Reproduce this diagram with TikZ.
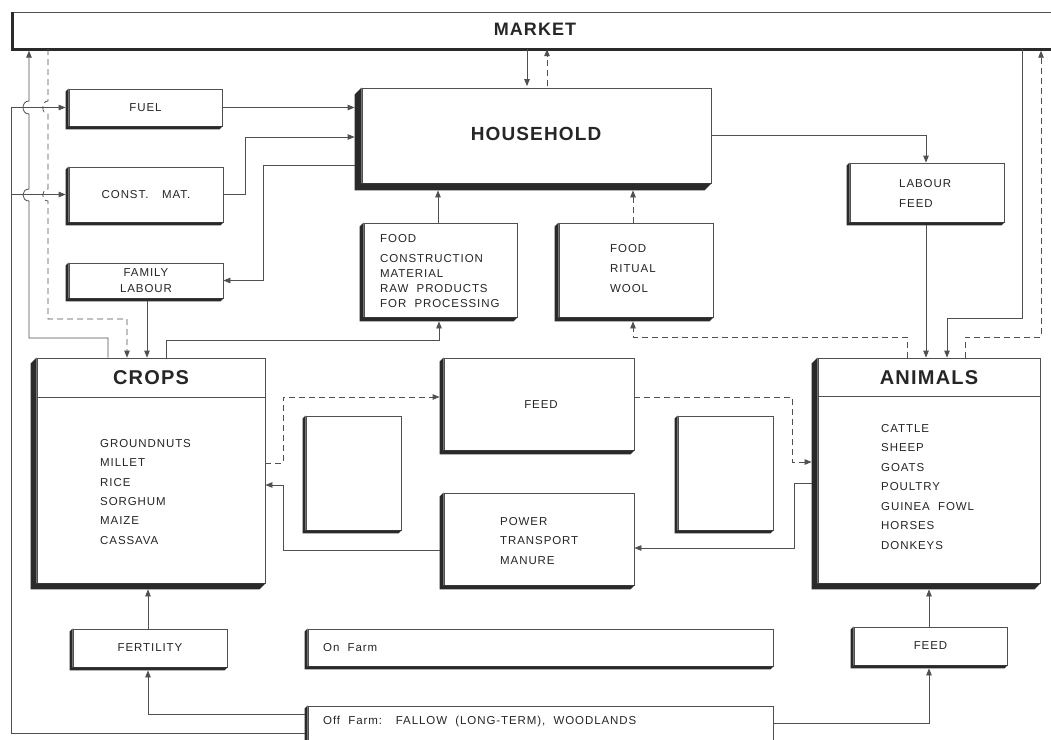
\documentclass[tikz,border=0pt]{standalone}
\usepackage{fontspec}
\setmainfont{Liberation Sans}
\newfontfamily\labfont[LetterSpace=8]{Liberation Sans}
\newfontfamily\headfont[LetterSpace=6]{Liberation Sans}
\usetikzlibrary{arrows.meta,fit}
\definecolor{ink}{HTML}{262626}
\definecolor{ln}{HTML}{505050}
\definecolor{dk}{HTML}{2A2A2A}
\newcommand{\smf}{\labfont\fontsize{11.5}{15}\selectfont}
\newcommand{\hdf}[1]{\headfont\bfseries\fontsize{#1}{#1}\selectfont}
\tikzset{
  box/.style={draw=ln, line width=0.8pt, inner sep=0pt},
  lab/.style={text=ink, inner sep=0pt, font=\smf, align=left},
  conn/.style={draw=ln, line width=0.8pt, -{Triangle[length=7pt,width=5.5pt]}},
  plain/.style={draw=ln, line width=0.8pt},
  dsh/.style={dash pattern=on 6pt off 4pt},
}
% extrusion on left and bottom of a box
\newcommand{\ext}[2]{\fill[dk] (#1.north west) -- ++(-#2pt,-#2pt) -- ([xshift=-#2pt,yshift=-#2pt]#1.south west) -- ([xshift=-#2pt,yshift=-#2pt]#1.south east) -- (#1.south east) -- (#1.south west) -- cycle;}
\newcommand{\mkbox}[6]{\node[box, fit={(#2,#3) (#4,#5)}] (#1) {}; \ext{#1}{#6}}
\begin{document}
\begin{tikzpicture}[x=1pt,y=-1pt]
\useasboundingbox (0,0) rectangle (1051,739);
\fill[white] (0,0) rectangle (1051,739);

% MARKET
\node[inner sep=0pt, fit={(12,12) (1051,49)}] (market) {};
\draw[ln, line width=0.6pt] (12,12) -- (1051,12);
\draw[dk, line width=3pt] (12,12) -- (12,49) -- (1051,49);
\node[text=ink, font=\hdf{18}] (marketT) at (535,29) {MARKET};

% boxes
\mkbox{fuel}{69}{89}{222}{126}{3}
\node[lab] (fuelT) at (fuel.center) {FUEL};
\mkbox{const}{69}{167}{223}{222}{3}
\node[lab] (constT) at (146,195) {CONST.\hspace{1.2em}MAT.};
\mkbox{famlab}{69}{263}{223}{298}{3}
\node[lab, align=center, font=\smf\fontsize{11.5}{16}\selectfont] (famlabT) at (146,281) {FAMILY\\LABOUR};
\mkbox{house}{362}{88}{711}{183}{7}
\node[text=ink, font=\hdf{19}] (houseT) at (536,134) {HOUSEHOLD};
\mkbox{foodc}{364}{223}{517}{317}{4}
\node[lab, anchor=north west] (foodcT) at (380,234) {FOOD\\[5pt]CONSTRUCTION\\MATERIAL\\RAW\ \ PRODUCTS\\FOR\ \ PROCESSING};
\mkbox{foodr}{559}{223}{713}{317}{4}
\node[lab, anchor=north west, font=\smf\fontsize{11.5}{20}\selectfont] (foodrT) at (610,244) {FOOD\\RITUAL\\WOOL};
\mkbox{labfeed}{850}{163}{1004}{222}{3}
\node[lab, anchor=north west, font=\smf\fontsize{11.5}{20}\selectfont] (labfeedT) at (899,179) {LABOUR\\FEED};
\mkbox{crops}{37}{358}{265}{583}{6}
\draw[plain] (crops.west |- 0,397) -- (crops.east |- 0,397);
\node[text=ink, font=\hdf{20}] (cropsT) at (151,378) {CROPS};
\node[lab, anchor=north west, font=\smf\fontsize{11.5}{19.4}\selectfont] (cropsL) at (100,439) {GROUNDNUTS\\MILLET\\RICE\\SORGHUM\\MAIZE\\CASSAVA};
\mkbox{animals}{818}{358}{1040}{583}{6}
\draw[plain] (animals.west |- 0,396) -- (animals.east |- 0,396);
\node[text=ink, font=\hdf{20}] (animalsT) at (929,378) {ANIMALS};
\node[lab, anchor=north west, font=\smf\fontsize{11.5}{19.5}\selectfont] (animalsL) at (881,424) {CATTLE\\SHEEP\\GOATS\\POULTRY\\GUINEA\ \ FOWL\\HORSES\\DONKEYS};
\mkbox{feedm}{444}{358}{634}{450}{4}
\node[lab] (feedmT) at (541,405) {FEED};
\mkbox{power}{444}{493}{634}{585}{4}
\node[lab, anchor=north west, font=\smf\fontsize{11.5}{19.5}\selectfont] (powerT) at (500,517) {POWER\\TRANSPORT\\MANURE};
\mkbox{blankl}{306}{416}{401}{530}{3}
\mkbox{blankr}{678}{416}{773}{530}{3}
\mkbox{fert}{73}{629}{227}{667}{3}
\node[lab] (fertT) at (fert.center) {FERTILITY};
\mkbox{onfarm}{308}{629}{773}{666}{3}
\node[lab, anchor=west] (onfarmT) at (323,648) {On\ \ Farm};
\mkbox{offfarm}{308}{706}{773}{745}{3}
\node[lab, anchor=west] (offfarmT) at (323,722) {Off\ \ Farm:\hspace{1.2em}FALLOW\ \ (LONG-TERM),\ \ WOODLANDS};
\mkbox{feedb}{854}{627}{1007}{665}{3}
\node[lab] (feedbT) at (feedb.center) {FEED};

% connectors
\draw[conn, shorten >=1.5pt] (market.south -| 527,0) -- (house.north -| 527,0);
\draw[conn, dsh, shorten <=1.5pt] (house.north -| 547,0) -- (market.south -| 547,0);
\draw[conn, shorten >=7pt] (fuel.east) -- (fuel.east -| house.west);
\draw[conn, shorten >=7pt] (const.east) -- (245,194.5) -- (245,137) -- (house.west |- 0,137);
\draw[conn, shorten <=7pt] (house.west |- 0,165) -- (263,165) -- (263,280.5) -- (famlab.east);
\draw[conn, shorten <=3pt] (famlab.south -| 147,0) -- (crops.north -| 147,0);
\draw[conn, shorten >=1.5pt] (crops.north -| 108,0) -- (108,338) -- (29,338) -- (29,201)
   .. controls (21,201) and (21,189) .. (29,189) -- (29,114)
   .. controls (21,114) and (21,101) .. (29,101) -- (market.south -| 29,0);
\draw[conn, dsh] (market.south -| 48,0) -- (48,101)
   .. controls (41,101) and (41,114) .. (48,114) -- (48,189)
   .. controls (41,189) and (41,201) .. (48,201) -- (48,319) -- (127,319) -- (crops.north -| 127,0);
\coordinate (j1) at (11,194.5);
\draw[conn, shorten <=3pt, shorten >=3pt] (offfarm.west |- 0,733) -- (11,733) -- (11,107.5) -- (fuel.west);
\draw[conn, shorten >=3pt] (j1) -- (const.west);
\draw[conn, shorten >=4pt] (crops.north -| 166,0) -- (166,340) -- (439,340) -- (foodc.south -| 439,0);
\draw[conn, shorten >=7pt] (foodc.north -| 438,0) -- (house.south -| 438,0);
\draw[conn, dsh, shorten >=7pt] (foodr.north -| 633,0) -- (house.south -| 633,0);
\draw[conn, dsh, shorten >=4pt] (animals.north -| 907,0) -- (907,337) -- (633,337) -- (foodr.south -| 633,0);
\draw[conn] (house.east |- 0,135) -- (926,135) -- (labfeed.north -| 926,0);
\draw[conn, shorten <=3pt] (labfeed.south -| 926,0) -- (animals.north -| 926,0);
\draw[conn] (market.south -| 1022,0) -- (1022,318) -- (947,318) -- (animals.north -| 947,0);
\draw[conn, dsh, shorten >=1.5pt] (animals.north -| 965,0) -- (965,337) -- (1041,337) -- (market.south -| 1041,0);
\draw[conn, dsh, shorten >=4pt] (crops.east |- 0,463) -- (283,463) -- (283,397) -- (feedm.west |- 0,397);
\draw[conn, dsh, shorten >=6pt] (feedm.east |- 0,397) -- (792,397) -- (792,462) -- (animals.west |- 0,462);
\draw[conn, shorten <=6pt] (animals.west |- 0,483) -- (794,483) -- (794,548) -- (power.east |- 0,548);
\draw[conn, shorten <=4pt] (power.west |- 0,550) -- (283,550) -- (283,485) -- (crops.east |- 0,485);
\draw[conn, shorten >=6pt] (fert.north -| 148,0) -- (crops.south -| 148,0);
\draw[conn, shorten <=3pt, shorten >=3pt] (offfarm.west |- 0,714) -- (148,714) -- (fert.south -| 148,0);
\draw[conn, shorten >=6pt] (feedb.north -| 929,0) -- (animals.south -| 929,0);
\draw[conn, shorten >=3pt] (offfarm.east |- 0,723) -- (929,723) -- (feedb.south -| 929,0);
\end{tikzpicture}
\end{document}
